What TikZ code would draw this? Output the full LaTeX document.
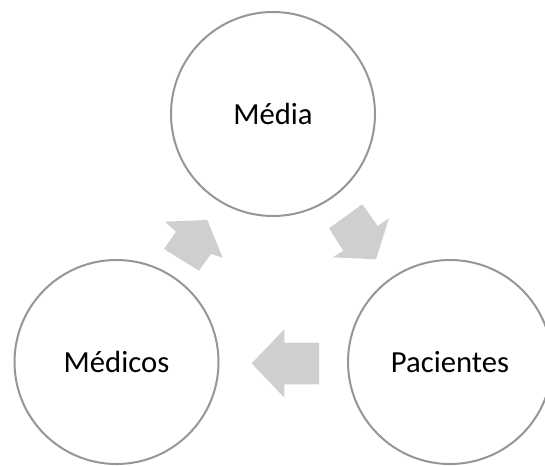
\documentclass[tikz,border=0pt]{standalone}
\usepackage{fontspec}
\setmainfont{Carlito}
\definecolor{contorno}{RGB}{150,150,150}
\definecolor{seta}{RGB}{207,207,207}
\begin{document}
\begin{tikzpicture}[x=0.75pt, y=0.75pt,
    circulo/.style={circle, draw=contorno, line width=1.5pt, minimum size=153pt, inner sep=0pt,
                    font=\fontsize{23}{27}\selectfont},
    bloco/.style={fill=seta, draw=none}]
        \useasboundingbox (0,0) rectangle (545,465);

        % círculos
        \node[circulo] (media) at (273,351) {Média};
        \node[circulo] (medicos) at (116.5,103) {Médicos};
        \node[circulo] (pacientes) at (450,103) {Pacientes};

        % seta Médicos -> Média
        \fill[bloco] (207.3,245) -- (222.7,207.3) -- (211,211) -- (199,194.3)
            -- (164,216) -- (176,233.3) -- (165,243.3) -- cycle;

        % seta Média -> Pacientes
        \fill[bloco] (376,205.7) -- (389,246.7) -- (377.7,239) -- (362.3,260.7)
            -- (329,236.7) -- (343.3,214.3) -- (332.7,207.7) -- cycle;

        % seta Pacientes -> Médicos
        \fill[bloco] (251.7,101.7) -- (284.3,135.7) -- (284.3,122.3) -- (319,122.3)
            -- (319,80.7) -- (284.3,80.7) -- (284.3,67.3) -- cycle;
    \end{tikzpicture}
\end{document}
